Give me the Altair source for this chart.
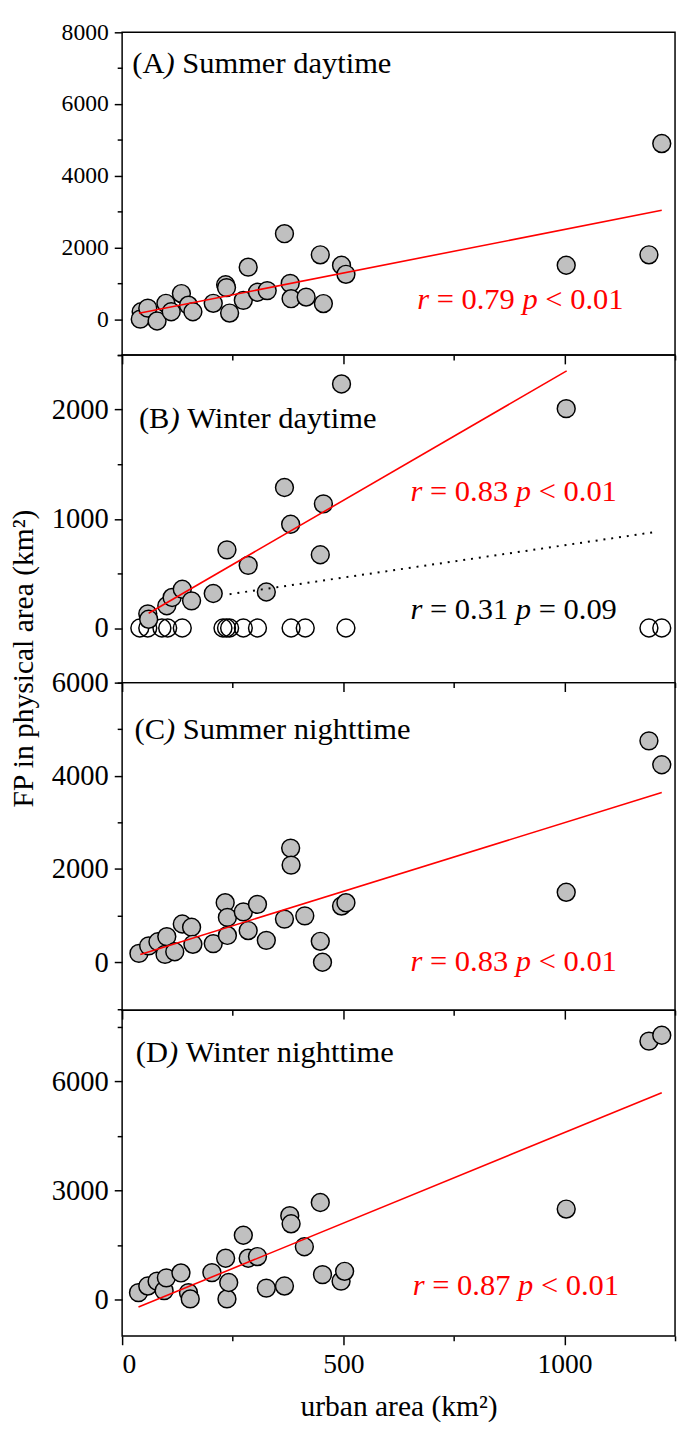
import altair as alt
import pandas as pd

FONT = "Liberation Serif"

# ---------------- data ----------------
A_x = [43, 41, 58, 79, 99, 111, 134, 150, 160, 206, 234, 236, 243, 274, 285, 306, 328, 367, 380, 382, 416, 448, 455, 496, 506, 1004, 1191, 1220]
A_y = [207, 0, 307, -50, 442, 207, 714, 389, 207, 442, 960, 880, 170, 525, 1450, 751, 797, 2384, 997, 571, 616, 1795, 435, 1504, 1251, 1504, 1795, 4898]
A_fit_x = [38, 1220]
A_fit_y = [163, 3037]

B_x = [58, 60, 101, 113, 136, 157, 206, 237, 285, 326, 367, 381, 448, 455, 496, 1004]
B_y = [130, 80, 204, 280, 355, 249, 316, 716, 574, 330, 1287, 950, 671, 1137, 2235, 2009]
B_open_x = [40, 58, 90, 103, 136, 228, 236, 243, 274, 306, 382, 414, 506, 1191, 1220]
B_open_y = [0] * len(B_open_x)
B_fit_x = [60, 1005]
B_fit_y = [135, 2355]
B_fit2_x = [243, 1208]
B_fit2_y = [310, 881]

C_x = [38, 60, 81, 97, 101, 119, 136, 157, 160, 206, 233, 238, 238, 274, 285, 306, 326, 367, 381, 382, 413, 448, 453, 496, 506, 1004, 1191, 1220]
C_y = [190, 352, 440, 168, 550, 225, 821, 751, 385, 400, 1278, 962, 575, 1080, 680, 1242, 470, 926, 2449, 2084, 996, 449, 0, 1206, 1278, 1501, 4751, 4238]
C_fit_x = [41, 1220]
C_fit_y = [168, 3642]

D_x = [37, 58, 79, 95, 100, 133, 150, 154, 203, 234, 237, 241, 274, 285, 306, 326, 367, 379, 382, 412, 448, 453, 495, 503, 1004, 1191, 1220]
D_y = [189, 370, 505, 243, 595, 730, 190, 16, 738, 1135, 16, 468, 1766, 1135, 1180, 313, 370, 2305, 2081, 1450, 2667, 685, 505, 775, 2486, 7100, 7262]
D_fit_x = [37, 1220]
D_fit_y = [-208, 5684]

panel_letters = ["(A", "(B", "(C", "(D"]
panel_names = ["Summer daytime", "Winter daytime", "Summer nighttime", "Winter nighttime"]
letter_w = [1.055, 1.0, 1.0, 1.055]  # em widths of "(A", "(B", "(C", "(D"
stat_r = ["= 0.79", "= 0.83", "= 0.83", "= 0.87"]
stat_p = ["< 0.01", "< 0.01", "< 0.01", "< 0.01"]
stat2_r = "= 0.31"
stat2_p = "= 0.09"

x_ticks = [0, 250, 500, 750, 1000, 1250]
x_title = "urban area (km²)"
y_title = "FP in physical area (km²)"

# ---------------- helpers ----------------
W = 562
XDOM = [0, 1250]
ytitle_y = 308


def make_panel(i, px, py, fx, fy, ydom, yticks, major, labpos, statpos, height, lab_size,
               bottom=False, ytitle=None, extra=None):
    xs = alt.Scale(domain=XDOM, nice=False, zero=False)
    ys = alt.Scale(domain=ydom, nice=False, zero=False)
    xaxis = alt.Axis(
        values=x_ticks,
        format="d",
        labels=bottom,
        labelExpr="datum.value % 500 === 0 && datum.value <= 1000 ? datum.label : ''",
        labelOverlap=False,
        labelFontSize=28,
        labelPadding=6,
        title=x_title if bottom else None,
        titleFontSize=30,
        titlePadding=14,
        tickSize={"condition": {"test": "datum.value % 500 === 0", "value": 9}, "value": 5},
    )
    yargs = dict(
        values=yticks,
        format="d",
        labelExpr=f"datum.value % {major} === 0 && datum.value >= 0 ? datum.label : ''",
        labelOverlap=False,
        labelFontSize=lab_size,
        labelPadding=6,
        tickSize={"condition": {"test": f"datum.value % {major} === 0", "value": 8}, "value": 5},
    )
    if ytitle:
        yargs.update(title=ytitle, titleFontSize=30, titleX=-100, titleY=ytitle_y,
                     titleBaseline="middle", titleAngle=-90)
    else:
        yargs.update(title=None)
    yaxis = alt.Axis(**yargs)

    def enc(ch):
        return ch.encode(x=alt.X("x:Q", scale=xs, axis=xaxis), y=alt.Y("y:Q", scale=ys, axis=yaxis))

    def seg_layers(xv, yv, segs, color, size):
        df = pd.DataFrame({"x": [xv], "y": [yv]})
        return [
            enc(alt.Chart(df).mark_text(text=t, align="left", baseline="alphabetic", font=FONT,
                                        fontSize=size, fontStyle=st, color=color, dx=off * size))
            for t, st, off in segs
        ]

    def stat_layers(xv, yv, rtxt, ptxt, color, size=31):
        segs = [("r", "italic", 0.0), (rtxt, "normal", 0.639), ("p", "italic", 3.453), (ptxt, "normal", 4.203)]
        return seg_layers(xv, yv, segs, color, size)

    layers = []
    if extra is not None and "open" in extra:
        ox, oy = extra["open"]
        layers.append(enc(alt.Chart(pd.DataFrame({"x": ox, "y": oy})).mark_point(
            shape="circle", filled=False, stroke="black", strokeWidth=1.5, size=330, opacity=1)))
    layers.append(enc(alt.Chart(pd.DataFrame({"x": px, "y": py})).mark_point(
        shape="circle", filled=True, fill="#c0c0c0", stroke="black", strokeWidth=1.5, size=330, opacity=1)))
    layers.append(enc(alt.Chart(pd.DataFrame({"x": fx, "y": fy})).mark_line(color="red", strokeWidth=1.6)))
    if extra is not None and "dotted" in extra:
        dx_, dy_ = extra["dotted"]
        layers.append(enc(alt.Chart(pd.DataFrame({"x": dx_, "y": dy_})).mark_line(
            color="black", strokeWidth=2, strokeDash=[2, 6])))
    lw = letter_w[i]
    layers += seg_layers(labpos[0], labpos[1],
                         [(panel_letters[i], "normal", 0.0), (")", "italic", lw),
                          (panel_names[i], "normal", lw + 0.333 + 0.25)], "black", 31)
    layers += stat_layers(statpos[0], statpos[1], statpos[2], statpos[3], "red")
    if extra is not None and "stat2" in extra:
        s = extra["stat2"]
        layers += stat_layers(s[0], s[1], s[2], s[3], "black")
    return alt.layer(*layers).properties(width=W, height=height)


pA = make_panel(0, A_x, A_y, A_fit_x, A_fit_y, [-1000, 8000], list(range(-1000, 8001, 1000)), 2000,
                (23, 6872), (667, 280, stat_r[0], stat_p[0]), 328, 24)
pB = make_panel(1, B_x, B_y, B_fit_x, B_fit_y, [-500, 2500], list(range(-500, 2501, 500)), 1000,
                (38, 1829), (652, 1167, stat_r[1], stat_p[1]), 333, 29,
                ytitle=y_title,
                extra={"open": (B_open_x, B_open_y), "dotted": (B_fit2_x, B_fit2_y),
                       "stat2": (652, 80, stat2_r, stat2_p)})
pC = make_panel(2, C_x, C_y, C_fit_x, C_fit_y, [-1030, 6000], list(range(-1000, 6001, 1000)), 2000,
                (28, 4800), (652, -196, stat_r[2], stat_p[2]), 333, 29)
pD = make_panel(3, D_x, D_y, D_fit_x, D_fit_y, [-1000, 7950], list(range(0, 7951, 1500)), 3000,
                (31, 6540), (657, 130, stat_r[3], stat_p[3]), 331, 29, bottom=True)

chart = alt.vconcat(pA, pB, pC, pD, spacing=0, bounds="flush").properties(
    padding={"left": 0, "top": 0, "right": 0, "bottom": 0}, background="white"
).configure_view(stroke="black", strokeWidth=1.5).configure_axis(
    labelFont=FONT, titleFont=FONT, labelColor="black", titleColor="black",
    tickColor="black", tickWidth=1.5, domain=False, grid=False, titleFontWeight="normal"
)

chart.save("out.html", embed_options={"renderer": "svg", "actions": False})
